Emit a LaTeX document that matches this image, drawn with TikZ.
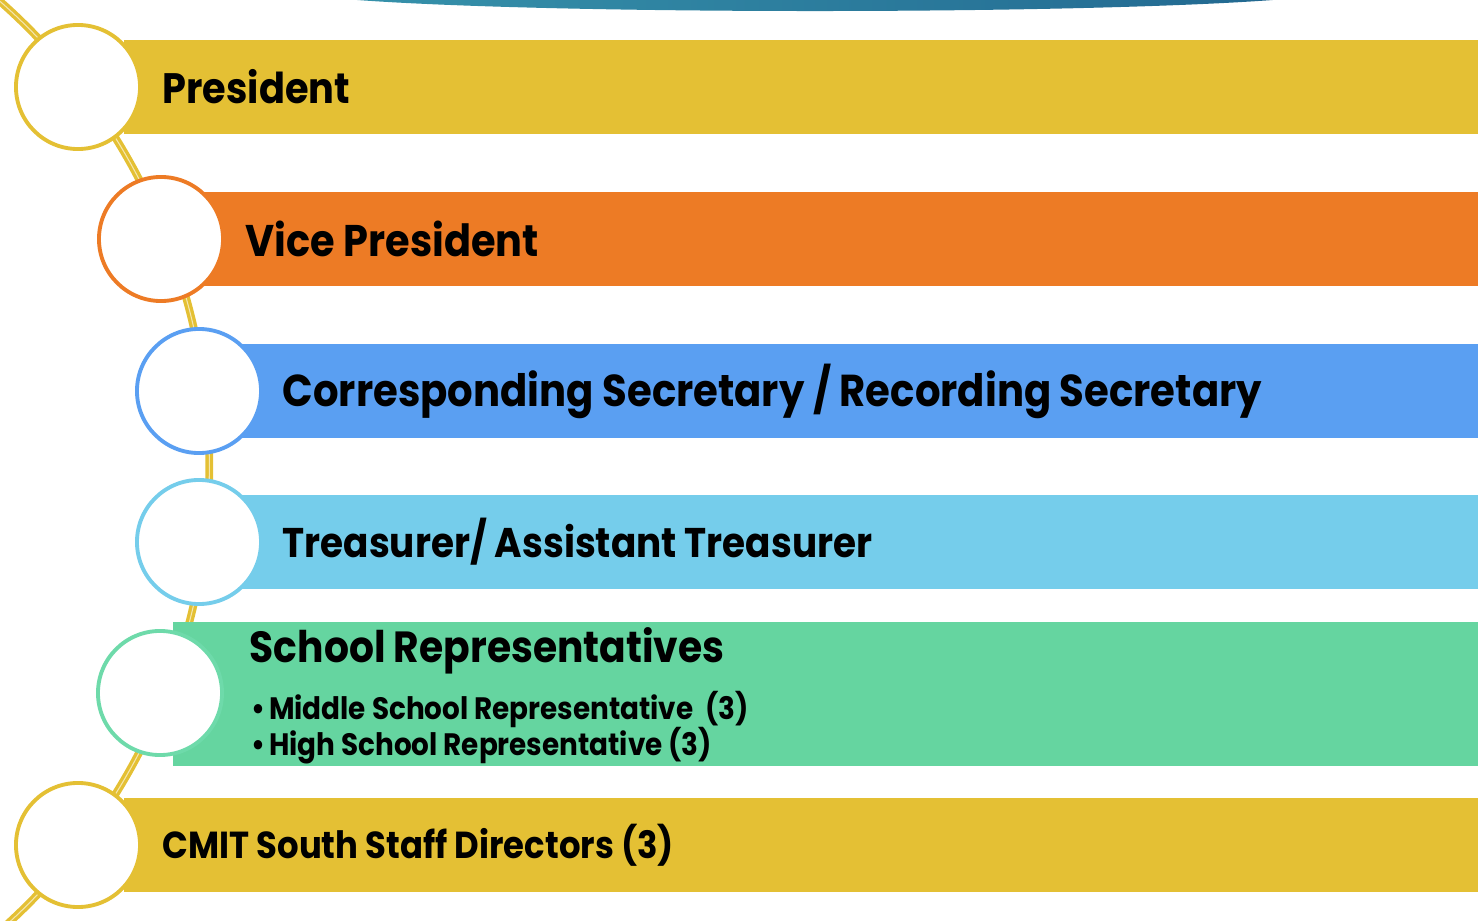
\documentclass[tikz,border=0pt]{standalone}
\usepackage{fontspec}
\setmainfont{Poppins}[FakeStretch=0.9]
\usepackage{tikz}
\usetikzlibrary{positioning, shadings}
\usepackage{xcolor}
\definecolor{presyellow}{RGB}{228,192,52}
\definecolor{viceorange}{RGB}{237,123,37}
\definecolor{secblue}{RGB}{90,159,242}
\definecolor{treasblue}{RGB}{117,205,235}
\definecolor{schoolgreen}{RGB}{101,213,160}
\definecolor{ringgreen}{RGB}{110,218,170}
\definecolor{topteal}{RGB}{55,148,172}
\definecolor{topblue}{RGB}{33,102,143}

\tikzset{
  ring/.style={circle, draw=#1, line width=1.1pt, fill=white, minimum size=1.24cm, inner sep=0pt},
  bar/.style={fill=#1, minimum height=0.94cm, inner sep=0pt, anchor=west},
  title/.style={font=\fontsize{#1}{#1}\selectfont\bfseries, anchor=west, inner sep=0pt},
  title/.default=12.4,
  item/.style={font=\fontsize{8.8}{10}\selectfont\bfseries, anchor=west, inner sep=0pt},
  spine/.style={draw=presyellow, double=white!60!presyellow, line width=0.95pt, double distance=0.3pt},
}

\begin{document}
\begin{tikzpicture}[x=0.01cm, y=-0.01cm]
  \useasboundingbox (0,0) rectangle (1478,921);
  \begin{scope}
    \clip (0,0) rectangle (1478,921);
    % top band
    \shade[left color=topteal, right color=topblue] (815,-10) ellipse [x radius=5.2cm, y radius=0.21cm];
    % spine through the rings
    \coordinate (hub) at (-411,466);
    \draw[spine] (hub) ++(52:6.2cm) arc[start angle=52, end angle=-52, radius=6.2cm];
  \end{scope}

  % bars
  \node[bar=presyellow, minimum width=13.55cm] (presbar) at (123,87) {};
  \node[bar=viceorange, minimum width=12.78cm] (vicebar) at (200,239) {};
  \node[bar=secblue, minimum width=12.38cm] (secbar) at (240,391) {};
  \node[bar=treasblue, minimum width=12.38cm] (treasbar) at (240,542) {};
  \node[bar=schoolgreen, minimum width=13.06cm, minimum height=1.44cm] (schoolbar) at (172,694) {};
  \node[bar=presyellow, minimum width=13.55cm] (staffbar) at (123,845) {};

  % rings
  \node[ring=presyellow] (pres) at (78,87) {};
  \node[ring=viceorange] (vice) at (161,239) {};
  \node[ring=secblue] (sec) at (199,391) {};
  \node[ring=treasblue] (treas) at (199,542) {};
  \node[ring=ringgreen] (school) at (160,693) {};
  \node[ring=presyellow] (staff) at (78,845) {};

  % labels
  \node[title=12.1, right=0.2cm of pres] (preslabel) {President};
  \node[title=12.6, right=0.2cm of vice] (vicelabel) {Vice President};
  \node[title=12.7, right=0.19cm of sec] (seclabel) {Corresponding Secretary / Recording Secretary};
  \node[title=11.8, right=0.19cm of treas] (treaslabel) {Treasurer/ Assistant Treasurer};
  \node[title] (schoollabel) at (249,651) {School Representatives};
  \node[item] (midlabel) at (251,709) {\textbullet\kern1pt Middle School Representative\ \ (3)};
  \node[item] (highlabel) at (251,746) {\textbullet\kern1pt High School Representative (3)};
  \node[title=10.7, right=0.2cm of staff] (stafflabel) {CMIT South Staff Directors (3)};
\end{tikzpicture}
\end{document}
